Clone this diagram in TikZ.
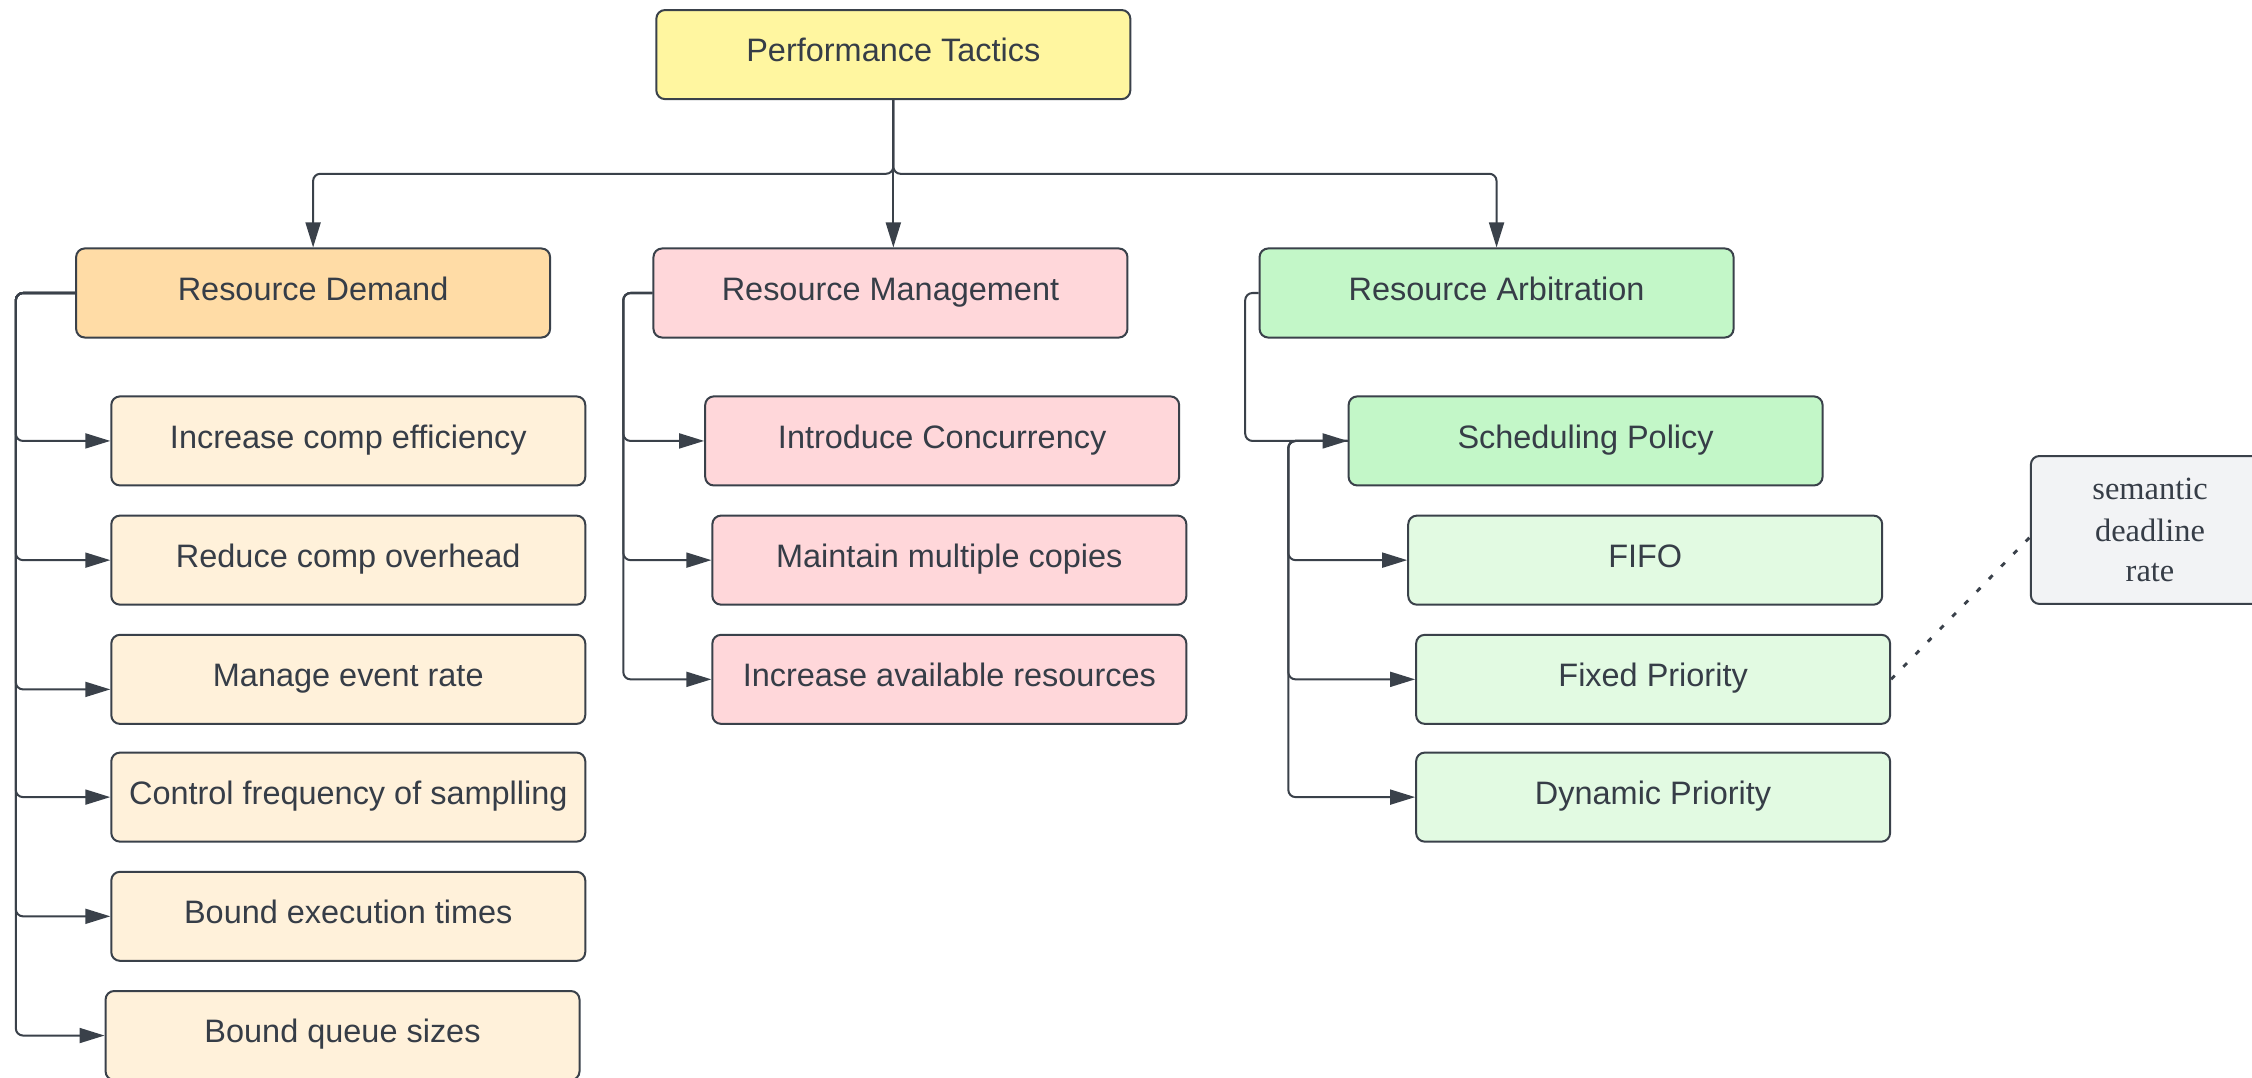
\documentclass[tikz,border=0pt]{standalone}
\usepackage{fontspec}
\setmainfont{Liberation Sans}
\newfontfamily\serifb{Liberation Serif}
\usetikzlibrary{arrows.meta,calc}
\definecolor{ink}{HTML}{3A414A}
\definecolor{txt}{HTML}{363D47}
\definecolor{ptfill}{HTML}{FFF6A0}
\definecolor{rdfill}{HTML}{FFDCA6}
\definecolor{dfill}{HTML}{FFF1DA}
\definecolor{mfill}{HTML}{FFD7DA}
\definecolor{afill}{HTML}{C3F7C8}
\definecolor{a2fill}{HTML}{E2FAE2}
\definecolor{semfill}{HTML}{F2F3F5}
\begin{document}
\begin{tikzpicture}[x=0.5pt,y=-0.5pt,
  box/.style={draw=ink, line width=0.7pt, rounded corners=3pt,
    minimum width=165pt, minimum height=31pt, inner sep=0pt, text=txt,
    font=\fontsize{11.3}{13.6}\selectfont, text height=0.72em, text depth=0.22em},
  conn/.style={draw=ink, line width=0.7pt, rounded corners=2.5pt},
  arr/.style={conn, -{Triangle[length=8.7pt,width=5.2pt]}},
  dotline/.style={draw=ink, line width=1pt, dash pattern=on 1.8pt off 4.3pt},
]
\useasboundingbox (0,0) rectangle (1568,750);
\clip (0,0) rectangle (1568,750);
\fill[white] (0,0) rectangle (1568,750);

% top
\node[box, fill=ptfill] (PT) at (622,38) {Performance Tactics};
\node[box, fill=rdfill] (RD) at (218,204) {Resource Demand};
\node[box, fill=mfill] (RM) at (620,204) {Resource Management};
\node[box, fill=afill] (RA) at (1042,204) {Resource Arbitration};

% demand children
\node[box, fill=dfill] (D1) at (242.5,307) {Increase comp efficiency};
\node[box, fill=dfill] (D2) at (242.5,390) {Reduce comp overhead};
\node[box, fill=dfill] (D3) at (242.5,473) {Manage event rate};
\node[box, fill=dfill] (D4) at (242.5,555) {Control frequency of samplling};
\node[box, fill=dfill] (D5) at (242.5,638) {Bound execution times};
\node[box, fill=dfill] (D6) at (238.5,721) {Bound queue sizes};

% management children
\node[box, fill=mfill] (M1) at (656,307) {Introduce Concurrency};
\node[box, fill=mfill] (M2) at (661,390) {Maintain multiple copies};
\node[box, fill=mfill] (M3) at (661,473) {Increase available resources};

% arbitration children
\node[box, fill=afill] (SP) at (1104,307) {Scheduling Policy};
\node[box, fill=a2fill] (A1) at (1145.5,390) {FIFO};
\node[box, fill=a2fill] (A2) at (1151,473) {Fixed Priority};
\node[box, fill=a2fill] (A3) at (1151,555) {Dynamic Priority};

% note
\node[draw=ink, line width=0.7pt, rounded corners=3pt, fill=semfill, text=txt,
  minimum width=83pt, minimum height=51.5pt, inner sep=0pt, align=center,
  font=\serifb\fontsize{11.3}{13.8}\selectfont] (SEM) at (1497,369)
  {\raisebox{0.8pt}{semantic}\\deadline\\rate};

% top connectors
\coordinate (bus) at (622,121);
\draw[arr] (PT.south) -- (bus) -| (RD.north);
\draw[arr] (PT.south) -- (bus) -| (RA.north);
\draw[arr] (PT.south) -- (PT.south |- RM.north);

% demand connectors
\coordinate (dT) at (11,204);
\foreach \n in {D1,D2,D4,D5,D6}
  \draw[arr] (RD.west) -- (dT) |- (\n.west);
\draw[arr] (RD.west) -- (dT) |- ([yshift=-3.5pt]D3.west);

% management connectors
\coordinate (mT) at (434,204);
\foreach \n in {M1,M2,M3}
  \draw[arr] (RM.west) -- (mT) |- (\n.west);

% arbitration connectors
\coordinate (aT) at (867,204);
\draw[arr] (RA.west) -- (aT) |- (SP.west);
\coordinate (sT) at (897,307);
\foreach \n in {A1,A2,A3}
  \draw[arr] (SP.west) -- (sT) |- (\n.west);

% dotted note link
\draw[dotline] (A2.east) -- ([yshift=-2.5pt]SEM.west);
\end{tikzpicture}
\end{document}
